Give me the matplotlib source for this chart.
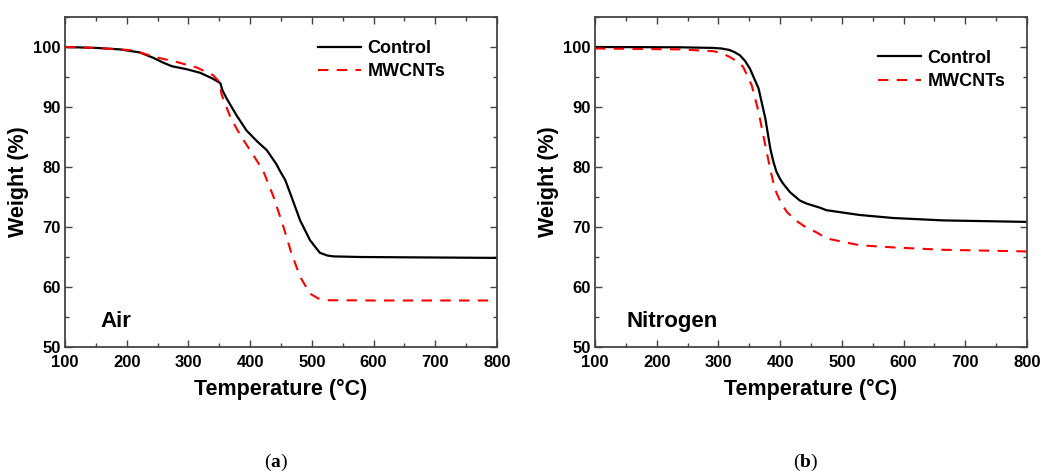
import matplotlib.pyplot as plt
from matplotlib.ticker import MultipleLocator

# TGA curves, weight (%) vs temperature (°C)
air_temp_control = [100, 150, 189, 221, 243, 259, 273, 297, 319, 338, 350, 352, 355, 362, 378, 394, 411, 427,
                    443, 448, 457, 465, 481, 497, 513, 525, 535, 578, 650, 800]
air_weight_control = [100.0, 99.85, 99.6, 99.1, 98.2, 97.4, 96.8, 96.3, 95.7, 94.8, 94.1, 93.9, 92.8, 91.4, 88.6,
                      86.1, 84.3, 82.8, 80.4, 79.4, 77.8, 75.6, 71.1, 67.8, 65.7, 65.25, 65.1, 65.0, 64.95, 64.85]

air_temp_mwcnt = [100, 150, 211, 243, 281, 313, 340, 350, 354, 368, 384, 405, 421, 438, 454, 467, 481, 497,
                  510, 524, 600, 800]
air_weight_mwcnt = [100.0, 99.85, 99.45, 98.4, 97.5, 96.6, 95.3, 94.2, 92.0, 88.3, 85.3, 82.0, 79.4, 75.0, 70.0,
                    65.6, 61.7, 58.9, 58.1, 57.8, 57.75, 57.75]

n2_temp_control = [100, 238, 290, 305, 318, 326, 335, 343, 351, 365, 376, 384, 389, 394, 400, 405, 416, 432, 443,
                   465, 475, 529, 583, 664, 800]
n2_weight_control = [100.0, 99.95, 99.85, 99.75, 99.5, 99.15, 98.6, 97.7, 96.4, 93.1, 88.1, 83.1, 80.9, 79.2,
                     78.0, 77.2, 75.8, 74.4, 73.9, 73.2, 72.8, 72.0, 71.5, 71.1, 70.85]

n2_temp_mwcnt = [100, 238, 292, 306, 319, 330, 340, 354, 365, 376, 384, 389, 394, 402, 411, 424, 438, 459, 475,
                 529, 583, 664, 789, 800]
n2_weight_mwcnt = [99.75, 99.6, 99.3, 98.95, 98.3, 97.6, 96.7, 93.6, 89.2, 83.6, 79.6, 77.4, 75.7, 73.9, 72.5,
                   71.2, 70.2, 69.1, 68.1, 66.95, 66.6, 66.2, 65.95, 65.9]

panels = [
    ("Air", "a", air_temp_control, air_weight_control, air_temp_mwcnt, air_weight_mwcnt),
    ("Nitrogen", "b", n2_temp_control, n2_weight_control, n2_temp_mwcnt, n2_weight_mwcnt),
]

plt.rcParams["font.family"] = ["Liberation Sans", "DejaVu Sans"]
plt.rcParams["font.weight"] = "bold"
plt.rcParams["mathtext.fontset"] = "custom"
plt.rcParams["mathtext.rm"] = "Liberation Serif"
plt.rcParams["mathtext.bf"] = "Liberation Serif:bold"

fig = plt.figure(figsize=(10.44, 4.73), dpi=100)
lefts = [65 / 1044, 595 / 1044]
legend_anchor = [(0.548, 0.98), (0.617, 0.95)]
label_x = [0.081, 0.074]

for i, (atm, tag, tc, wc, tm, wm) in enumerate(panels):
    ax = fig.add_axes([lefts[i], 1 - 347 / 473, 432 / 1044, 330 / 473])
    ax.plot(tc, wc, color="black", lw=1.6, label="Control")
    ax.plot(tm, wm, color="red", lw=1.5, dashes=(5, 4), label="MWCNTs")

    ax.set_xlim(100, 800)
    ax.set_ylim(50, 105)
    ax.xaxis.set_major_locator(MultipleLocator(100))
    ax.xaxis.set_minor_locator(MultipleLocator(50))
    ax.yaxis.set_major_locator(MultipleLocator(10))
    ax.yaxis.set_minor_locator(MultipleLocator(5))
    ax.tick_params(which="both", direction="in", top=True, right=True, color="#444444", width=1.0)
    ax.tick_params(which="major", length=5, labelsize=12, pad=3)
    ax.tick_params(axis="x", which="major", pad=6)
    ax.tick_params(which="minor", length=3)
    for sp in ax.spines.values():
        sp.set_color("#444444")
        sp.set_linewidth(1.3)

    ax.set_xlabel("Temperature (°C)", fontsize=15.5, fontweight="bold", labelpad=6)
    ax.set_ylabel("Weight (%)", fontsize=15.5, fontweight="bold", labelpad=3)

    ax.text(label_x[i], 0.061, atm, transform=ax.transAxes, fontsize=16, fontweight="bold", va="baseline")

    leg = ax.legend(loc="upper left", bbox_to_anchor=legend_anchor[i], frameon=False,
                    fontsize=13, handlelength=2.4, handletextpad=0.35, labelspacing=0.35)
    for t in leg.get_texts():
        t.set_fontweight("bold")

    # sub-figure tag under each panel
    fig.text(lefts[i] + 0.5 * 432 / 1044 - 0.005, 1 - 462 / 473, "(" + r"$\mathbf{" + tag + "}$" + ")",
             ha="center", va="center", fontsize=14, family="Liberation Serif", fontweight="normal")

fig.savefig("out.png", dpi=100)
